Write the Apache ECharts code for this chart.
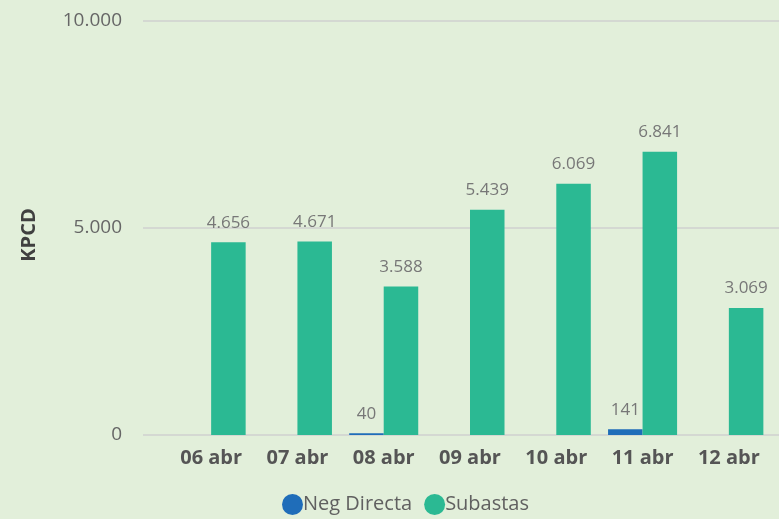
<!DOCTYPE html>
<html>
<head>
<meta charset="utf-8">
<script src="https://cdn.jsdelivr.net/npm/echarts@6/dist/echarts.min.js"></script>
<style>
html, body { margin: 0; padding: 0; background: #E2EFDA; }
#chart { width: 779px; height: 519px; }
</style>
</head>
<body>
<div id="chart"></div>
<script>
const categories = ['06 abr', '07 abr', '08 abr', '09 abr', '10 abr', '11 abr', '12 abr'];
const negDirecta = [null, null, 40, null, null, 141, null];
const subastas = [4656, 4671, 3588, 5439, 6069, 6841, 3069];
const yTicks = [0, 5000, 10000];

function fmt(v) {
	return String(v).replace(/\B(?=(\d{3})+(?!\d))/g, '.');
}

const myChart = echarts.init(document.getElementById('chart'));
const labelStyle = {
	show: true,
	position: 'top',
	distance: 11,
	color: '#777777',
	fontSize: 17,
	fontFamily: 'Open Sans',
	formatter: p => fmt(p.value)
};
const option = {
	backgroundColor: '#E2EFDA',
	animation: false,
	grid: [
		{ left: 143, right: 0, top: 21, bottom: 84 },
		{ left: 168, right: 7, top: 21, bottom: 84 }
	],
	legend: {
		data: ['Neg Directa', 'Subastas'],
		bottom: -1,
		left: 277,
		icon: 'circle',
		itemWidth: 21,
		itemHeight: 21,
		itemGap: 12,
		textStyle: { color: '#606060', fontSize: 20, fontFamily: 'Open Sans', padding: [0, 0, 0, -5] }
	},
	xAxis: [
		{ gridIndex: 0, type: 'value', show: false, min: 0, max: 1 },
		{
			gridIndex: 1,
			type: 'category',
			data: categories,
			axisLine: { show: false },
			axisTick: { show: false },
			axisLabel: { color: '#555555', fontWeight: 'bold', fontSize: 20, fontFamily: 'Open Sans', margin: 13 }
		}
	],
	yAxis: [
		{
			gridIndex: 0,
			type: 'value',
			min: yTicks[0],
			max: yTicks[2],
			interval: yTicks[1],
			name: 'KPCD',
			nameLocation: 'middle',
			nameGap: 104,
			nameTextStyle: { color: '#404040', fontWeight: 'bold', fontSize: 20, fontFamily: 'Open Sans', padding: [0, 14, 0, 0] },
			axisLine: { show: false },
			axisTick: { show: false },
			axisLabel: { color: '#666666', fontSize: 19, fontFamily: 'Open Sans', margin: 21, formatter: fmt },
			splitLine: { lineStyle: { color: '#D4D8D2', width: 2 } }
		},
		{ gridIndex: 1, type: 'value', min: 0, max: 10000, show: false }
	],
	series: [
		{
			name: 'Neg Directa',
			type: 'bar',
			xAxisIndex: 1,
			yAxisIndex: 1,
			data: negDirecta,
			barGap: '0%',
			barCategoryGap: '20%',
			itemStyle: { color: '#1F6DB9' },
			label: labelStyle
		},
		{
			name: 'Subastas',
			type: 'bar',
			xAxisIndex: 1,
			yAxisIndex: 1,
			data: subastas,
			barGap: '0%',
			barCategoryGap: '20%',
			itemStyle: { color: '#2BB993' },
			label: labelStyle
		}
	]
};
myChart.setOption(option);
</script>
</body>
</html>
